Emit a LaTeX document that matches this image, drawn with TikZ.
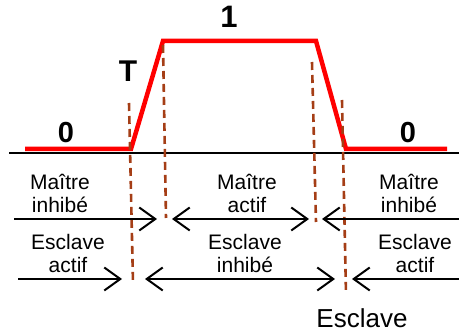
\documentclass[tikz,border=0pt]{standalone}
\usepackage{fontspec}
\setmainfont{Liberation Sans}
\usetikzlibrary{arrows.meta}
\definecolor{dashbrown}{RGB}{165,62,22}
\tikzset{
  sig/.style={red, line width=4.5pt, line join=miter},
  guide/.style={dashbrown, line width=2.6pt, dash pattern=on 8pt off 5pt},
  arr/.style={black, line width=2pt, -{Straight Barb[length=16pt,width=23pt]}},
  darr/.style={black, line width=2pt, {Straight Barb[length=16pt,width=23pt]}-{Straight Barb[length=16pt,width=23pt]}},
  lbl/.style={inner sep=0pt, align=center, anchor=base, font=\fontsize{21}{23.5}\selectfont},
  big/.style={inner sep=0pt, anchor=base, font=\fontsize{29}{33}\selectfont\bfseries},
}
\begin{document}
\begin{tikzpicture}[x=1pt,y=-1pt]
\useasboundingbox (0,0) rectangle (459,336);
% axis
\coordinate (axL) at (9,153.5);
\coordinate (axR) at (459,153.5);
\draw[black, line width=2pt] (axL) -- (axR);
% signal
\coordinate (s0) at (25,149);
\coordinate (s1) at (131,149);
\coordinate (s2) at (163,41);
\coordinate (s3) at (316,41);
\coordinate (s4) at (346,149);
\coordinate (s5) at (447,149);
\draw[sig] (s0) -- (s1) -- (s2) -- (s3) -- (s4) -- (s5);
% guides
\coordinate (g1t) at (129,103); \coordinate (g1b) at (133,283);
\coordinate (g2t) at (163,45);  \coordinate (g2b) at (166,218);
\coordinate (g3t) at (312,62);  \coordinate (g3b) at (316,222);
\coordinate (g4t) at (342,100); \coordinate (g4b) at (346,294);
\draw[guide] (g1t) -- (g1b);
\draw[guide] (g2t) -- (g2b);
\draw[guide] (g3t) -- (g3b);
\draw[guide] (g4t) -- (g4b);
% level labels
\node[big] (zeroL) at (66,143) {0};
\node[big] (zeroR) at (408,143) {0};
\node[big, font=\fontsize{31}{35}\selectfont\bfseries] (one) at (229,28) {1};
\node[big, font=\fontsize{30}{34}\selectfont\bfseries] (tee) at (128,82) {T};
% arrows row 1
\coordinate (a1s) at (14,219); \coordinate (a1e) at (157,219);
\coordinate (a2s) at (172,219); \coordinate (a2e) at (309,219);
\coordinate (a3s) at (459,219); \coordinate (a3e) at (322,219);
\draw[arr] (a1s) -- (a1e);
\draw[darr] (a2s) -- (a2e);
\draw[arr] (a3s) -- (a3e);
% arrows row 2
\coordinate (b1s) at (18,279); \coordinate (b1e) at (122,279);
\coordinate (b2s) at (145,279); \coordinate (b2e) at (335,279);
\coordinate (b3s) at (459,279); \coordinate (b3e) at (352,279);
\draw[arr] (b1s) -- (b1e);
\draw[darr] (b2s) -- (b2e);
\draw[arr] (b3s) -- (b3e);
% texts (base = baseline of last line)
\node[lbl] (m1) at (60,213) {Maître\\inhibé};
\node[lbl] (e1) at (68,273) {Esclave\\actif};
\node[lbl] (m2) at (247,213) {Maître\\actif};
\node[lbl] (e2) at (245,273) {Esclave\\inhibé};
\node[lbl] (m3) at (409,213) {Maître\\inhibé};
\node[lbl] (e3) at (415,273) {Esclave\\actif};
\node[inner sep=0pt, anchor=base, font=\fontsize{26}{30}\selectfont] (esc) at (362,328) {Esclave};
\end{tikzpicture}
\end{document}
